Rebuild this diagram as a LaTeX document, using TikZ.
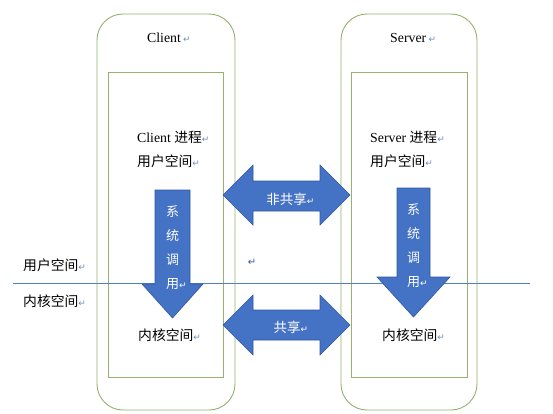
\documentclass[tikz,border=0pt]{standalone}
\usepackage{fontspec}
\setmainfont{Liberation Serif}
\newfontfamily\cjk{Noto Sans CJK SC}
\newfontfamily\symfont{DejaVu Sans}
\definecolor{boxgreen}{RGB}{150,178,112}
\definecolor{arrowblue}{RGB}{68,114,196}
\definecolor{arrowedge}{RGB}{50,88,160}
\definecolor{lineblue}{RGB}{79,129,189}
\definecolor{markblue}{RGB}{110,145,190}
\newcommand\retmark[1][markblue]{{\symfont\fontsize{9}{9}\selectfont\color{#1}↵}}

\begin{document}
\begin{tikzpicture}[x=1pt,y=-1pt,
    txt/.style={inner sep=0pt,anchor=west,font=\fontsize{13.8}{16}\selectfont},
    intxt/.style={inner sep=0pt,text=white,font=\cjk\fontsize{13.5}{16}\selectfont},
    outerbox/.style={draw=boxgreen,line width=0.9pt,rounded corners=26pt},
    innerbox/.style={draw=boxgreen,line width=0.9pt},
    blockarrow/.style={fill=arrowblue,draw=arrowedge,line width=0.6pt,line join=miter}]
        \useasboundingbox[fill=white] (0,0) rectangle (553,413);
        % the two machines
        \draw[outerbox] (97,14) rectangle (235,410);
        \draw[innerbox] (108,72) rectangle (223,377);
        \draw[outerbox] (341,14) rectangle (477,410);
        \draw[innerbox] (351,72) rectangle (467,377);
        \node[txt] at (147,38) (client) {Client\,\retmark};
        \node[txt] at (390,38) (server) {Server\,\retmark};
        \node[txt] at (137,137) (cproc) {Client {\cjk 进程}\retmark};
        \node[txt] at (137,161) (cuser) {{\cjk 用户空间}\retmark};
        \node[txt] at (370,137) (sproc) {Server {\cjk 进程}\retmark};
        \node[txt] at (370,161) (suser) {{\cjk 用户空间}\retmark};
        \node[txt] at (138,335) (ckern) {{\cjk 内核空间}\retmark};
        \node[txt] at (382,335) (skern) {{\cjk 内核空间}\retmark};
        % boundary between user and kernel space
        \coordinate (lineA) at (13,283);
        \coordinate (lineB) at (530,283);
        \draw[lineblue,line width=1pt] (lineA) -- (lineB);
        \node[txt] at (23,265) (user) {{\cjk 用户空间}\retmark};
        \node[txt] at (23,301) (kern) {{\cjk 内核空间}\retmark};
        \node[inner sep=0pt] at (252,262) (mark) {{\symfont\fontsize{10}{10}\selectfont\color{arrowedge}↵}};
        % system calls
        \draw[blockarrow] (155,190) -- (190,190) -- (190,284) -- (203,284) -- (172.5,318)
            -- (142,284) -- (155,284) -- cycle;
        \node[intxt,align=center,font=\cjk\fontsize{13}{24}\selectfont] at (172.5,248) (ccall)
            {系\\统\\调\\用\rlap{\retmark[white]}};
        \draw[blockarrow] (397,188) -- (430,188) -- (430,277) -- (450,277) -- (413.5,317)
            -- (377,277) -- (397,277) -- cycle;
        \node[intxt,align=center,font=\cjk\fontsize{13}{24}\selectfont] at (413.5,246) (scall)
            {系\\统\\调\\用\rlap{\retmark[white]}};
        % exchange between the two sides
        \draw[blockarrow] (223,195) -- (253,165) -- (253,181) -- (320,181) -- (320,165) -- (350,195)
            -- (320,225) -- (320,211) -- (253,211) -- (253,225) -- cycle;
        \node[intxt] at (286.5,199) (noshare) {非共享\rlap{\retmark[white]}};
        \draw[blockarrow] (223,325) -- (253,295) -- (253,310) -- (320,310) -- (320,295) -- (350,325)
            -- (320,355) -- (320,340) -- (253,340) -- (253,355) -- cycle;
        \node[intxt] at (287,327) (share) {共享\rlap{\retmark[white]}};
    \end{tikzpicture}
\end{document}
